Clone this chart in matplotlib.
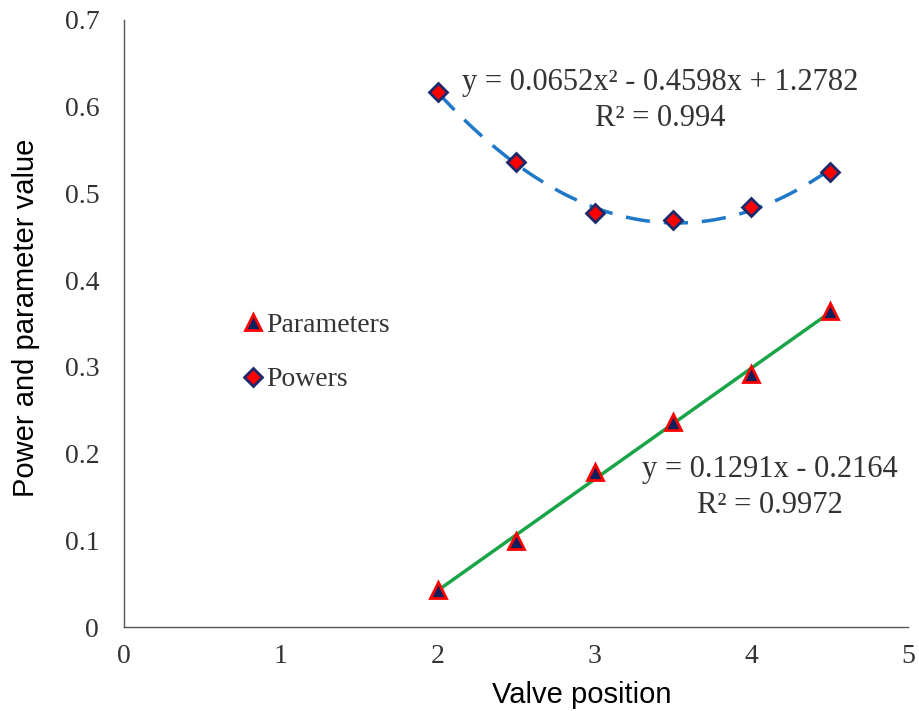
import matplotlib
matplotlib.use("Agg")
import matplotlib.pyplot as plt
import numpy as np
from matplotlib.lines import Line2D

valve = [2, 2.5, 3, 3.5, 4, 4.5]
powers = [0.617, 0.536, 0.477, 0.469, 0.484, 0.525]
parameters = [0.043, 0.099, 0.179, 0.237, 0.292, 0.364]

serif = "Liberation Serif"
sans = "Liberation Sans"

fig = plt.figure(figsize=(9.2, 7.11), dpi=100)
ax = fig.add_axes([0.135, 0.118, 0.852, 0.854])

# trend lines
xs = np.linspace(2, 4.5, 100)
quad = np.polyfit(valve, powers, 2)
lin = np.polyfit(valve, parameters, 1)
ax.plot(xs, np.polyval(quad, xs), color="#1f78c8", lw=2.5, dashes=(7, 4), zorder=2)
ax.plot(xs, np.polyval(lin, xs), color="#1aa448", lw=2.5, zorder=2)

ax.plot(valve, powers, ls="none", marker="D", ms=9, mfc="#ff0000", mec="#1c2a6b", mew=2, zorder=3)
ax.plot(valve, parameters, ls="none", marker="^", ms=12, mfc="#0d1f5c", mec="#ff0000", mew=2, zorder=3)

ax.set_xlim(0, 5)
ax.set_ylim(0, 0.7)
ax.set_xticks(range(6))
ax.set_yticks(np.arange(0, 0.71, 0.1))
ax.set_yticklabels(["0", "0.1", "0.2", "0.3", "0.4", "0.5", "0.6", "0.7"])
ax.tick_params(length=0, labelsize=20, colors="#333333")
ax.tick_params(axis="x", pad=12)
ax.tick_params(axis="y", pad=18)
for lab in ax.get_xticklabels() + ax.get_yticklabels():
    lab.set_fontfamily(serif)
for s in ["top", "right"]:
    ax.spines[s].set_visible(False)
for s in ["left", "bottom"]:
    ax.spines[s].set_color("#555555")
    ax.spines[s].set_linewidth(1)

ax.set_xlabel("Valve position", fontfamily=sans, fontsize=21, labelpad=9, x=0.584)
ax.set_ylabel("Power and parameter value", fontfamily=sans, fontsize=21, labelpad=18, y=0.51)

ax.text(3.42, 0.607, "y = 0.0652x² - 0.4598x + 1.2782\nR² = 0.994", ha="center", va="center",
        fontfamily=serif, fontsize=22, color="#333333", linespacing=1.28)
ax.text(4.12, 0.161, "y = 0.1291x - 0.2164\nR² = 0.9972", ha="center", va="center",
        fontfamily=serif, fontsize=22, color="#333333", linespacing=1.28)

handles = [
    Line2D([], [], ls="none", marker="^", ms=12, mfc="#0d1f5c", mec="#ff0000", mew=2),
    Line2D([], [], ls="none", marker="D", ms=9, mfc="#ff0000", mec="#1c2a6b", mew=2),
]
fig.legend(handles, ["Parameters", "Powers"], loc="upper left", bbox_to_anchor=(0.239, 0.596),
           frameon=False, prop={"family": serif, "size": 20}, handlelength=0.6,
           handletextpad=0.15, labelspacing=1.05, labelcolor="#333333")

fig.savefig("out.png", dpi=100)
